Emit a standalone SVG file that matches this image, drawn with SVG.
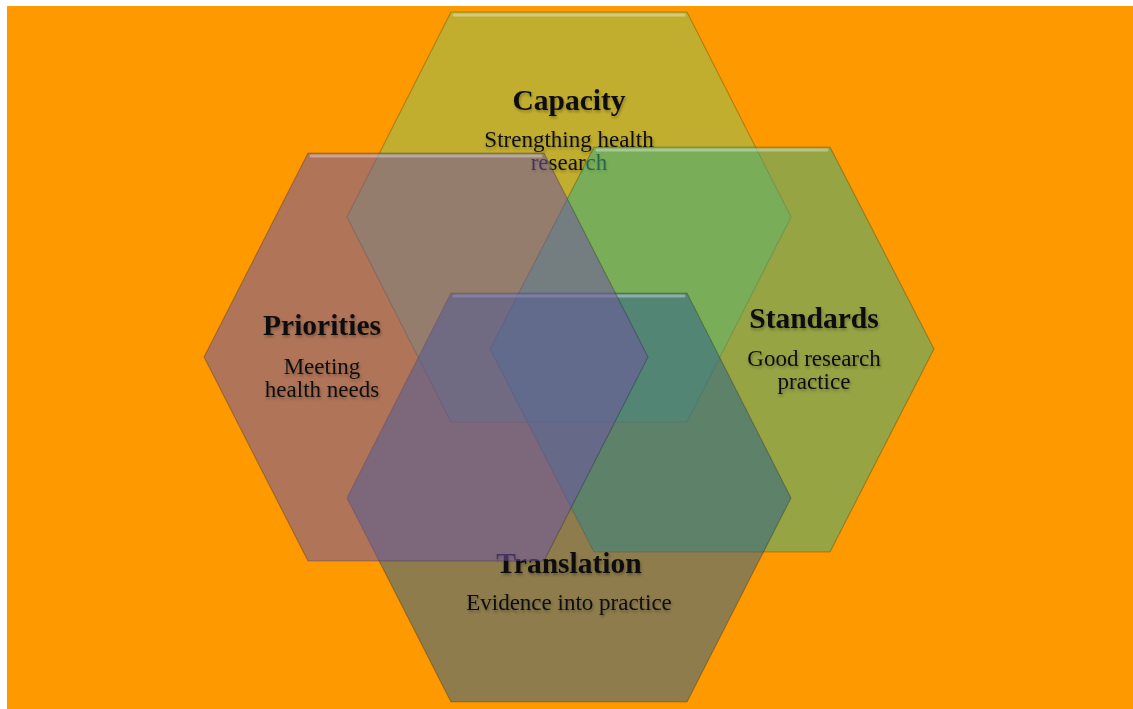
<svg xmlns="http://www.w3.org/2000/svg" width="1133" height="709" viewBox="0 0 1133 709">
  <defs>
    <style>
      .hex { fill-opacity: 0.55; stroke: #000; stroke-opacity: 0.22; stroke-width: 1.2; stroke-linejoin: round; }
      .hi { fill: none; stroke: #fff; stroke-opacity: 0.35; stroke-width: 3; stroke-linecap: round; }
      .title { font-family: "Liberation Serif", "Times New Roman", serif; font-weight: bold; font-size: 29.5px; fill: #111; text-anchor: middle; filter: url(#ts); }
      .body { font-family: "Liberation Serif", "Times New Roman", serif; font-size: 23px; fill: #111; text-anchor: middle; filter: url(#ts); }
    </style>
    <filter id="ts" x="-10%" y="-30%" width="120%" height="160%">
      <feDropShadow dx="1" dy="2" stdDeviation="1.5" flood-color="#000" flood-opacity="0.3"/>
    </filter>
  </defs>
  <rect x="0" y="0" width="1133" height="709" fill="#ffffff"/>
  <rect x="7" y="6" width="1126" height="703" fill="#ff9900"/>

  <g id="capacity">
    <polygon class="hex" fill="#90bf54" points="451,12 687,12 791,217 687,422 451,422 347,217"/>
    <line class="hi" x1="454" y1="15" x2="684" y2="15"/>
    <text class="title" x="569" y="110">Capacity</text>
    <text class="body" x="569" y="147">Strengthing health</text>
    <text class="body" x="569" y="170">research</text>
  </g>

  <g id="standards">
    <polygon class="hex" fill="#40ad7c" points="594,147 830,147 934,349 830,552 594,552 490,349"/>
    <line class="hi" x1="597" y1="150" x2="827" y2="150"/>
    <text class="title" x="814" y="328">Standards</text>
    <text class="body" x="814" y="366">Good research</text>
    <text class="body" x="814" y="389">practice</text>
  </g>

  <g id="translation">
    <polygon class="hex" fill="#32648a" points="451,293 687,293 791,498 687,702 451,702 347,498"/>
    <line class="hi" x1="454" y1="296" x2="684" y2="296"/>
    <text class="title" x="569" y="573">Translation</text>
    <text class="body" x="569" y="610">Evidence into practice</text>
  </g>

  <g id="priorities">
    <polygon class="hex" fill="#6f56a0" points="308,153 544,153 648,357 544,561 308,561 204,357"/>
    <line class="hi" x1="311" y1="156" x2="541" y2="156"/>
    <text class="title" x="322" y="335">Priorities</text>
    <text class="body" x="322" y="374">Meeting</text>
    <text class="body" x="322" y="397">health needs</text>
  </g>

  <g id="connectors"></g>
</svg>
